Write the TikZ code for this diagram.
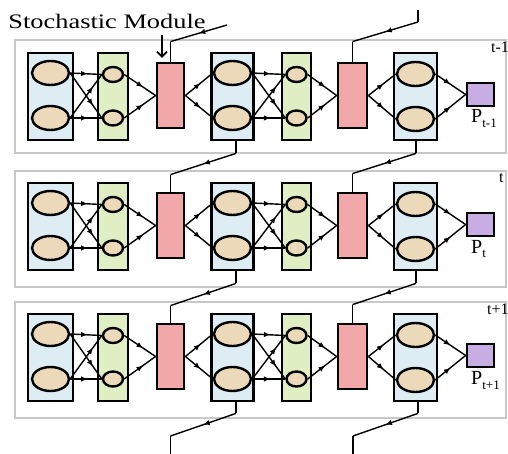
\documentclass[tikz,border=0pt]{standalone}
\usepackage{graphicx}
\usepackage{fontspec}
\setmainfont{Liberation Serif}
\usetikzlibrary{shapes.geometric, decorations.markings, arrows.meta, calc}
\definecolor{bluefill}{RGB}{221,237,243}
\definecolor{greenfill}{RGB}{224,238,196}
\definecolor{redfill}{RGB}{242,168,168}
\definecolor{purplefill}{RGB}{200,172,228}
\definecolor{tanfill}{RGB}{236,217,186}
\definecolor{framegray}{RGB}{200,200,200}
\begin{document}
\begin{tikzpicture}[x=1pt,y=-1pt,
  frame/.style={draw=framegray, line width=1.3pt, fill=white},
  boxbase/.style={rectangle, draw=black, line width=2.8pt, inner sep=0pt},
  bluebox/.style={boxbase, fill=bluefill, minimum width=#1, minimum height=87pt},
  greenbox/.style={boxbase, fill=greenfill, minimum width=#1, minimum height=87pt},
  redbox/.style={boxbase, fill=redfill, minimum width=#1, minimum height=65pt},
  outbox/.style={boxbase, fill=purplefill, minimum width=27pt, minimum height=23pt},
  bigcirc/.style={ellipse, draw=black, line width=2.4pt, fill=tanfill, minimum width=37pt, minimum height=24pt, inner sep=0pt},
  smallcirc/.style={ellipse, draw=black, line width=2.4pt, fill=tanfill, minimum width=20pt, minimum height=15pt, inner sep=0pt},
  conn/.style={draw=black, line width=1.4pt},
  midarrow/.style={postaction={decorate}, decoration={markings, mark=at position #1 with {\arrow{Latex[length=6.5pt,width=5.5pt]}}}},
  midarrow/.default=0.6,
  lbl/.style={anchor=base west, inner sep=0pt}
]
\useasboundingbox (0,0) rectangle (508,454);

\foreach \r/\oy/\ft/\fb/\tl/\tx/\pl in {1/0/40/153/t-1/491/t-1, 2/130/171/287/t/499/t, 3/261/302/418/t+1/487/t+1} {
  \draw[frame] (15,\ft) rectangle (506,\fb);
  % boxes
  \node[bluebox=45pt] (B1r\r) at (50.5,96.5+\oy) {};
  \node[greenbox=30pt] (G1r\r) at (113,96.5+\oy) {};
  \node[redbox=27pt] (R1r\r) at (170.5,95.5+\oy) {};
  \node[bluebox=42pt] (B2r\r) at (232.5,96.5+\oy) {};
  \node[greenbox=29pt] (G2r\r) at (296.5,96.5+\oy) {};
  \node[redbox=29pt] (R2r\r) at (352.5,95.5+\oy) {};
  \node[bluebox=43pt] (B3r\r) at (415.5,96.5+\oy) {};
  \node[outbox] (Pr\r) at (480.5,94.5+\oy) {};
  % circles
  \node[bigcirc] (bau\r) at (50.5,73+\oy) {};
  \node[bigcirc] (bad\r) at (50.5,118+\oy) {};
  \node[smallcirc] (gau\r) at (113,74.5+\oy) {};
  \node[smallcirc] (gad\r) at (113,118+\oy) {};
  \node[bigcirc] (bbu\r) at (232.5,73+\oy) {};
  \node[bigcirc] (bbd\r) at (232.5,118+\oy) {};
  \node[smallcirc] (gbu\r) at (296.5,74.5+\oy) {};
  \node[smallcirc] (gbd\r) at (296.5,118+\oy) {};
  \node[bigcirc] (bcu\r) at (415.5,74+\oy) {};
  \node[bigcirc] (bcd\r) at (415.5,119+\oy) {};
  % labels
  \node[lbl, font=\fontsize{16}{16}\selectfont] (T\r) at (\tx,53+\oy) {\tl};
  \node[lbl] (PL\r) at (471,123+\oy) {\fontsize{20}{20}\selectfont P\raisebox{-5pt}{\fontsize{13}{13}\selectfont \pl}};
  % connectors: full crossings
  \foreach \a/\b in {bau/gau, bad/gad, bbu/gbu, bbd/gbd}
    \draw[conn, midarrow=0.55] (\a\r.east) -- (\b\r.west);
  \foreach \a/\b in {bau/gad, bad/gau, bbu/gbd, bbd/gbu}
    \draw[conn, midarrow=0.72] (\a\r.east) -- (\b\r.west);
  \foreach \a in {gau,gad}
    \draw[conn, midarrow=0.6] (\a\r.east) -- (R1r\r.west);
  \foreach \b in {bbu,bbd}
    \draw[conn, midarrow=0.55] (R1r\r.east) -- (\b\r.west);
  \foreach \a in {gbu,gbd}
    \draw[conn, midarrow=0.6] (\a\r.east) -- (R2r\r.west);
  \foreach \b in {bcu,bcd}
    \draw[conn, midarrow=0.55] (R2r\r.east) -- (\b\r.west);
  \foreach \a in {bcu,bcd}
    \draw[conn, midarrow=0.5] (\a\r.east) -- (Pr\r.west);
}

% stochastic links between rows
\foreach \r/\n in {1/2, 2/3} {
  \coordinate (da\r) at ($(B2r\r.south)+(3.5,12)$);
  \coordinate (db\r) at ($(R1r\n.north)+(0,-17)$);
  \draw[conn] ($(B2r\r.south)+(3.5,0)$) -- (da\r);
  \draw[conn, midarrow=0.5] (da\r) -- (db\r);
  \draw[conn] (db\r) -- (R1r\n.north);
  \coordinate (dc\r) at ($(B3r\r.south)+(0.5,12)$);
  \coordinate (dd\r) at ($(R2r\n.north)+(0,-18)$);
  \draw[conn] ($(B3r\r.south)+(0.5,0)$) -- (dc\r);
  \draw[conn, midarrow=0.5] (dc\r) -- (dd\r);
  \draw[conn] (dd\r) -- (R2r\n.north);
}

% top incoming links
\coordinate (ta) at (227,25);
\coordinate (tb) at ($(R1r1.north)+(0,-20)$);
\draw[conn, midarrow=0.5] (ta) -- (tb);
\draw[conn] (tb) -- (R1r1.north);
\coordinate (tc) at (418,10);
\coordinate (td) at (418,22);
\coordinate (te) at ($(R2r1.north)+(0,-20)$);
\draw[conn] (tc) -- (td);
\draw[conn, midarrow=0.5] (td) -- (te);
\draw[conn] (te) -- (R2r1.north);

% bottom outgoing links
\coordinate (ba) at ($(B2r3.south)+(3.5,11)$);
\coordinate (bb) at (170.5,436);
\coordinate (bc) at (170.5,456);
\draw[conn] ($(B2r3.south)+(3.5,0)$) -- (ba);
\draw[conn, midarrow=0.5] (ba) -- (bb);
\draw[conn] (bb) -- (bc);
\coordinate (bd) at ($(B3r3.south)+(2.5,11)$);
\coordinate (be) at (353,436);
\coordinate (bf) at (353,456);
\draw[conn] ($(B3r3.south)+(2.5,0)$) -- (bd);
\draw[conn, midarrow=0.5] (bd) -- (be);
\draw[conn] (be) -- (bf);

% stochastic module label
\node[lbl] (SM) at (8.3,28.3) {\resizebox{197pt}{14.3pt}{Stochastic Module}};
\coordinate (sma) at (162,35);
\coordinate (smb) at (162,58);
\draw[line width=1.8pt, -{Straight Barb[length=5pt,width=10pt]}] (sma) -- (smb);
\end{tikzpicture}
\end{document}
